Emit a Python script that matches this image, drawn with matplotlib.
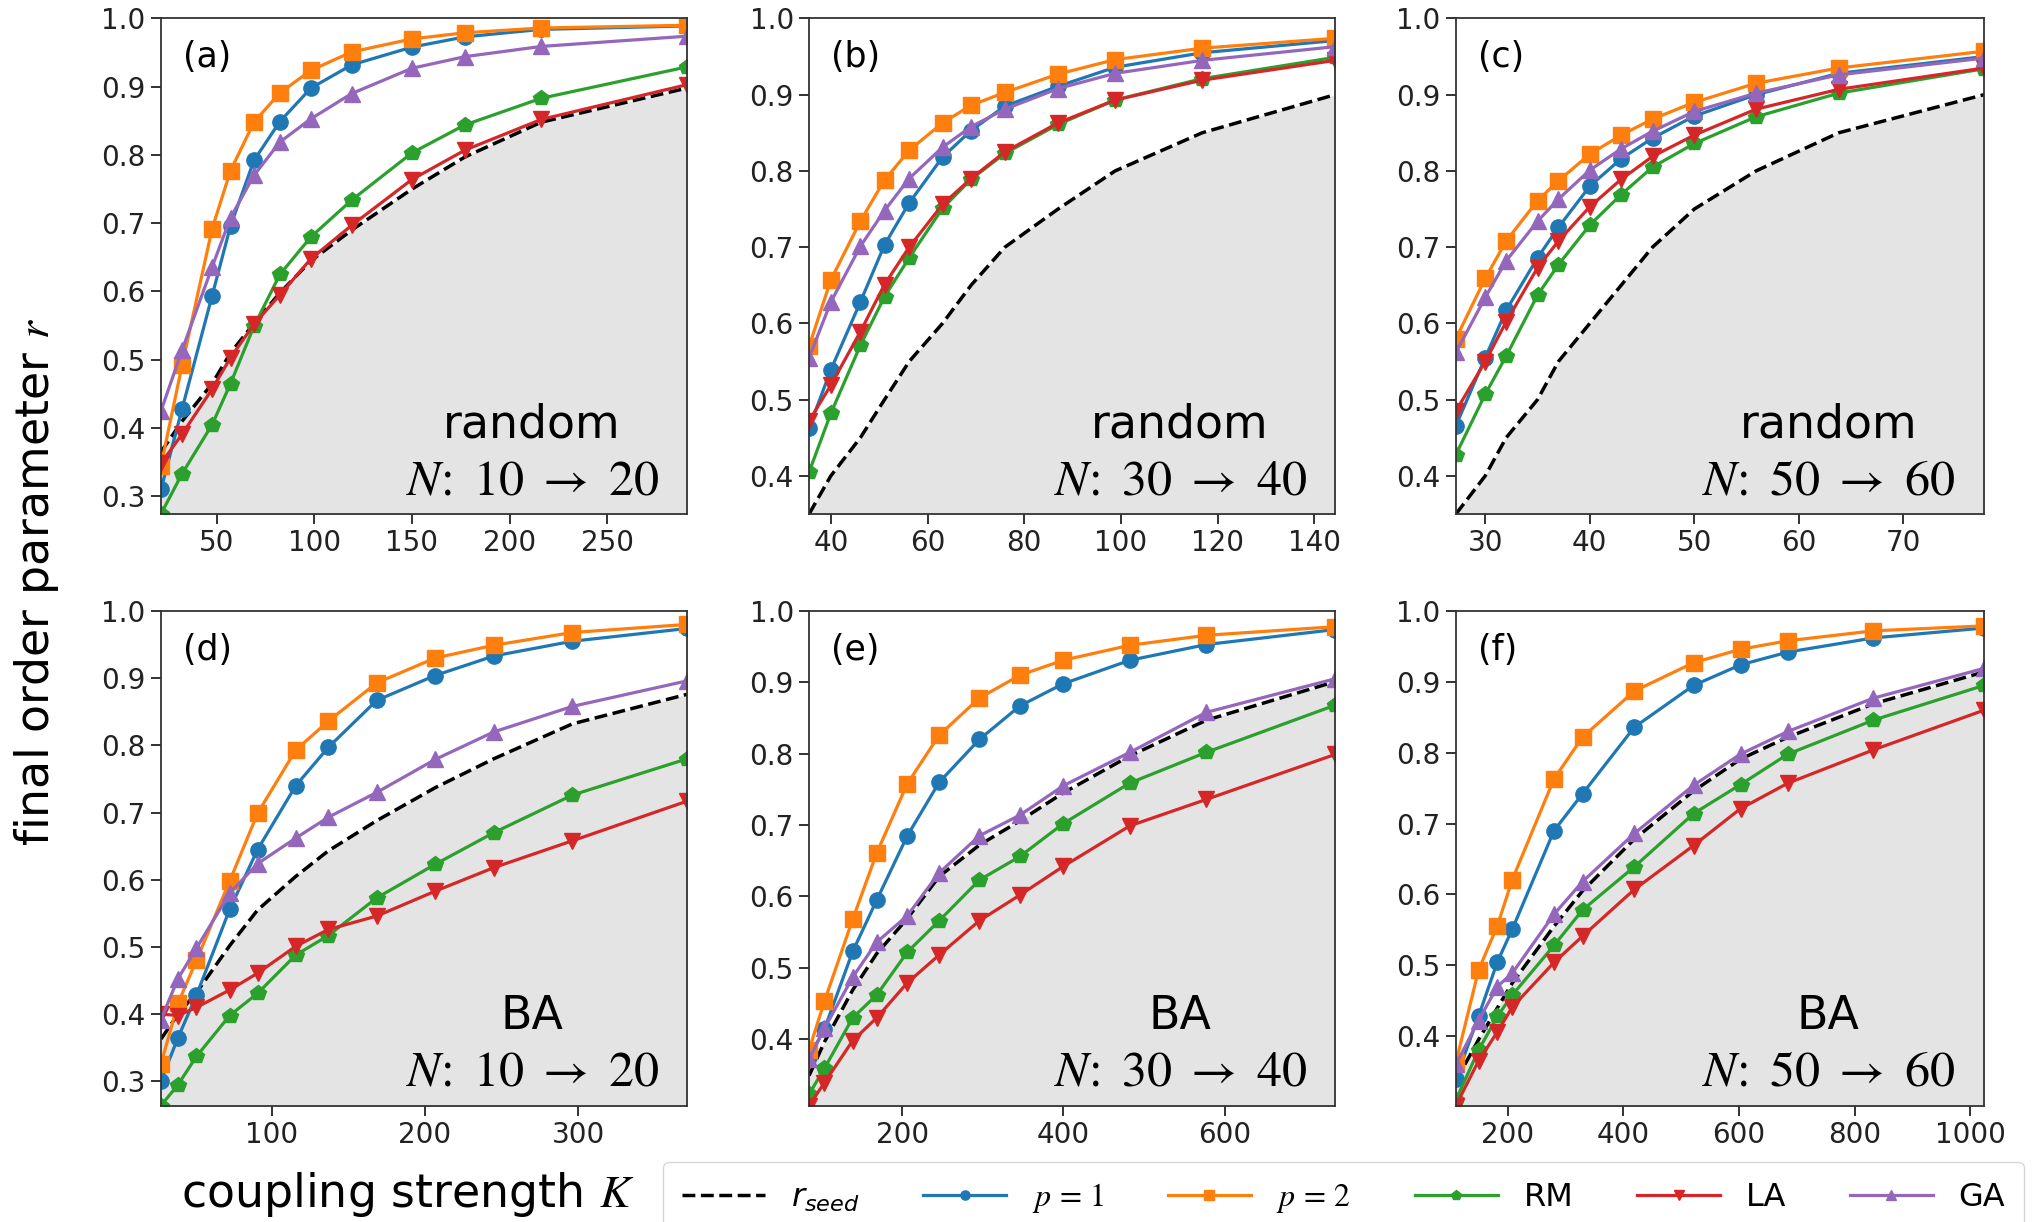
import matplotlib
matplotlib.use('Agg')
import matplotlib.pyplot as plt
from matplotlib.ticker import MultipleLocator, FormatStrFormatter

# panel (a): random, N 10 -> 20
K_A = [21.5, 32.3, 47.7, 57.1, 69.1, 82.4, 98.3, 119.2, 150.0, 177.1, 216.2, 290.9]
SEED_A = [0.365, 0.41, 0.465, 0.51, 0.553, 0.598, 0.645, 0.69, 0.75, 0.797, 0.848, 0.898]
P1_A = [0.310, 0.428, 0.594, 0.696, 0.792, 0.849, 0.898, 0.932, 0.958, 0.973, 0.984, 0.989]
P2_A = [0.345, 0.492, 0.692, 0.777, 0.848, 0.891, 0.924, 0.951, 0.970, 0.979, 0.986, 0.990]
RM_A = [0.274, 0.333, 0.405, 0.465, 0.549, 0.625, 0.680, 0.734, 0.803, 0.844, 0.883, 0.929]
LA_A = [0.348, 0.391, 0.457, 0.503, 0.552, 0.595, 0.648, 0.697, 0.764, 0.807, 0.852, 0.903]
GA_A = [0.425, 0.514, 0.636, 0.708, 0.770, 0.819, 0.853, 0.890, 0.927, 0.944, 0.959, 0.974]

# panel (b): random, N 30 -> 40
K_B = [35.5, 40.0, 46.1, 51.1, 56.2, 63.1, 69.0, 76.0, 87.0, 98.8, 116.8, 144.3]
SEED_B = [0.35, 0.40, 0.45, 0.50, 0.55, 0.60, 0.65, 0.70, 0.75, 0.80, 0.85, 0.90]
P1_B = [0.463, 0.539, 0.628, 0.703, 0.758, 0.818, 0.853, 0.885, 0.911, 0.936, 0.955, 0.971]
P2_B = [0.570, 0.657, 0.734, 0.788, 0.827, 0.863, 0.886, 0.903, 0.927, 0.946, 0.961, 0.974]
RM_B = [0.405, 0.482, 0.571, 0.635, 0.686, 0.751, 0.789, 0.823, 0.861, 0.893, 0.921, 0.949]
LA_B = [0.472, 0.519, 0.589, 0.651, 0.700, 0.756, 0.790, 0.825, 0.863, 0.893, 0.919, 0.945]
GA_B = [0.555, 0.628, 0.701, 0.748, 0.790, 0.831, 0.858, 0.881, 0.908, 0.928, 0.945, 0.963]

# panel (c): random, N 50 -> 60
K_C = [27.2, 30.0, 32.0, 35.0, 37.0, 40.0, 43.0, 46.0, 50.0, 55.9, 63.8, 77.7]
SEED_C = [0.35, 0.40, 0.45, 0.50, 0.55, 0.60, 0.65, 0.70, 0.75, 0.80, 0.85, 0.90]
P1_C = [0.466, 0.555, 0.617, 0.686, 0.726, 0.780, 0.816, 0.843, 0.872, 0.900, 0.928, 0.950]
P2_C = [0.580, 0.659, 0.708, 0.761, 0.787, 0.822, 0.847, 0.868, 0.890, 0.915, 0.935, 0.957]
RM_C = [0.428, 0.507, 0.557, 0.637, 0.677, 0.729, 0.769, 0.805, 0.836, 0.871, 0.902, 0.934]
LA_C = [0.485, 0.550, 0.602, 0.673, 0.708, 0.753, 0.789, 0.819, 0.847, 0.881, 0.907, 0.935]
GA_C = [0.562, 0.634, 0.682, 0.734, 0.763, 0.801, 0.829, 0.852, 0.878, 0.902, 0.926, 0.948]

# panel (d): BA, N 10 -> 20
K_D = [27.9, 39.0, 51.0, 72.7, 90.9, 115.8, 137.0, 168.6, 206.7, 244.9, 296.2, 371.0]
SEED_D = [0.363, 0.400, 0.432, 0.502, 0.555, 0.605, 0.643, 0.688, 0.737, 0.780, 0.832, 0.876]
P1_D = [0.301, 0.365, 0.428, 0.556, 0.645, 0.740, 0.797, 0.867, 0.904, 0.933, 0.955, 0.974]
P2_D = [0.326, 0.416, 0.480, 0.598, 0.699, 0.793, 0.836, 0.893, 0.930, 0.949, 0.968, 0.980]
RM_D = [0.264, 0.295, 0.337, 0.398, 0.431, 0.488, 0.517, 0.573, 0.623, 0.670, 0.726, 0.780]
LA_D = [0.400, 0.398, 0.410, 0.436, 0.461, 0.501, 0.526, 0.546, 0.583, 0.618, 0.658, 0.717]
GA_D = [0.392, 0.453, 0.498, 0.580, 0.624, 0.662, 0.693, 0.730, 0.779, 0.820, 0.858, 0.896]

# panel (e): BA, N 30 -> 40
K_E = [84.7, 103.7, 138.8, 168.6, 206.5, 246.0, 295.8, 346.1, 399.7, 482.5, 577.3, 736.9]
SEED_E = [0.349, 0.396, 0.469, 0.520, 0.569, 0.628, 0.672, 0.706, 0.745, 0.797, 0.847, 0.901]
P1_E = [0.375, 0.414, 0.523, 0.595, 0.685, 0.760, 0.820, 0.867, 0.898, 0.931, 0.953, 0.974]
P2_E = [0.385, 0.453, 0.568, 0.661, 0.758, 0.826, 0.878, 0.910, 0.931, 0.952, 0.966, 0.978]
RM_E = [0.323, 0.359, 0.430, 0.462, 0.522, 0.566, 0.623, 0.656, 0.702, 0.759, 0.802, 0.868]
LA_E = [0.307, 0.339, 0.398, 0.430, 0.479, 0.518, 0.566, 0.602, 0.642, 0.699, 0.736, 0.799]
GA_E = [0.372, 0.415, 0.487, 0.536, 0.573, 0.633, 0.685, 0.714, 0.755, 0.802, 0.858, 0.905]

# panel (f): BA, N 50 -> 60
K_F = [110.0, 149.1, 181.8, 207.6, 279.8, 329.1, 418.8, 521.3, 602.6, 684.6, 832.7, 1024.1]
SEED_F = [0.337, 0.395, 0.440, 0.475, 0.555, 0.605, 0.678, 0.746, 0.791, 0.822, 0.869, 0.914]
P1_F = [0.340, 0.428, 0.505, 0.551, 0.690, 0.742, 0.836, 0.895, 0.924, 0.942, 0.962, 0.976]
P2_F = [0.363, 0.493, 0.556, 0.621, 0.763, 0.822, 0.887, 0.927, 0.946, 0.958, 0.972, 0.979]
RM_F = [0.310, 0.380, 0.428, 0.458, 0.528, 0.578, 0.639, 0.714, 0.755, 0.798, 0.846, 0.895]
LA_F = [0.302, 0.365, 0.406, 0.441, 0.504, 0.541, 0.607, 0.669, 0.721, 0.757, 0.804, 0.860]
GA_F = [0.360, 0.422, 0.470, 0.489, 0.572, 0.618, 0.686, 0.754, 0.798, 0.830, 0.877, 0.919]

PANELS = [
    ('(a)', 'random', r'$N\!:\ 10\ \rightarrow\ 20$', K_A, SEED_A, P1_A, P2_A, RM_A, LA_A, GA_A, 50),
    ('(b)', 'random', r'$N\!:\ 30\ \rightarrow\ 40$', K_B, SEED_B, P1_B, P2_B, RM_B, LA_B, GA_B, 20),
    ('(c)', 'random', r'$N\!:\ 50\ \rightarrow\ 60$', K_C, SEED_C, P1_C, P2_C, RM_C, LA_C, GA_C, 10),
    ('(d)', 'BA', r'$N\!:\ 10\ \rightarrow\ 20$', K_D, SEED_D, P1_D, P2_D, RM_D, LA_D, GA_D, 100),
    ('(e)', 'BA', r'$N\!:\ 30\ \rightarrow\ 40$', K_E, SEED_E, P1_E, P2_E, RM_E, LA_E, GA_E, 200),
    ('(f)', 'BA', r'$N\!:\ 50\ \rightarrow\ 60$', K_F, SEED_F, P1_F, P2_F, RM_F, LA_F, GA_F, 200),
]

LABELS = [r'$r_{seed}$', r'$p\,=\,1$', r'$p\,=\,2$', 'RM', 'LA', 'GA']
COLORS = ['#1f77b4', '#ff7f0e', '#2ca02c', '#d62728', '#9467bd']
MARKERS = ['o', 's', 'p', 'v', '^']

LEFTS = [0.0790, 0.3970, 0.7144]
WIDTHS = [0.2581, 0.2581, 0.2591]
BOTTOMS = [0.5794, 0.0953]
HEIGHTS = [0.4055, 0.4047]

fig = plt.figure(figsize=(20.38, 12.22), dpi=100)

handles = []
for i, (tag, kind, ntext, k, seed, p1, p2, rm, la, ga, xstep) in enumerate(PANELS):
    row, col = divmod(i, 3)
    ax = fig.add_axes([LEFTS[col], BOTTOMS[row], WIDTHS[col], HEIGHTS[row]])

    ymin = min(min(s) for s in (seed, p1, p2, rm, la, ga))
    ax.fill_between(k, seed, 0, color='#e4e4e4', lw=0, zorder=1)
    h0, = ax.plot(k, seed, color='black', ls='--', lw=2.5, zorder=2)
    hs = [h0]
    for ys, c, m in zip((p1, p2, rm, la, ga), COLORS, MARKERS):
        h, = ax.plot(k, ys, color=c, marker=m, ms=11 if m != 'p' else 11.5, lw=2.3, zorder=2)
        hs.append(h)
    if i == 0:
        handles = hs

    ax.set_xlim(k[0], k[-1])
    ax.set_ylim(ymin, 1.0)
    ax.xaxis.set_major_locator(MultipleLocator(xstep))
    ax.yaxis.set_major_locator(MultipleLocator(0.1))
    ax.yaxis.set_major_formatter(FormatStrFormatter('%.1f'))
    ax.tick_params(labelsize=20, length=7, width=1.3, pad=4, colors='#222222')
    for sp in ax.spines.values():
        sp.set_linewidth(1.3)
        sp.set_color('#333333')

    ax.text(0.042, 0.922, tag, transform=ax.transAxes, fontsize=25, ha='left', va='center')
    ax.text(0.705, 0.155, kind, transform=ax.transAxes, fontsize=33, ha='center', va='baseline')
    ax.text(0.705, 0.04, ntext, transform=ax.transAxes, fontsize=36, ha='center', va='baseline',
            math_fontfamily='stix')

fig.text(0.018, 0.524, r'final order parameter $r$', rotation=90, fontsize=33,
         ha='center', va='center', math_fontfamily='stix')
fig.text(0.200, 0.0123, r'coupling strength $K$', fontsize=33, ha='center', va='baseline',
         math_fontfamily='stix')

leg = fig.legend(handles, LABELS, loc='upper left', bbox_to_anchor=(0.3253, 0.0491),
                 ncol=6, fontsize=23, handlelength=2.6, columnspacing=2.0, handletextpad=0.8,
                 markerscale=0.6, borderaxespad=0, borderpad=0.6)
for t in leg.get_texts()[1:3]:
    t.set_math_fontfamily('stix')

fig.savefig('out.png', dpi=100)
